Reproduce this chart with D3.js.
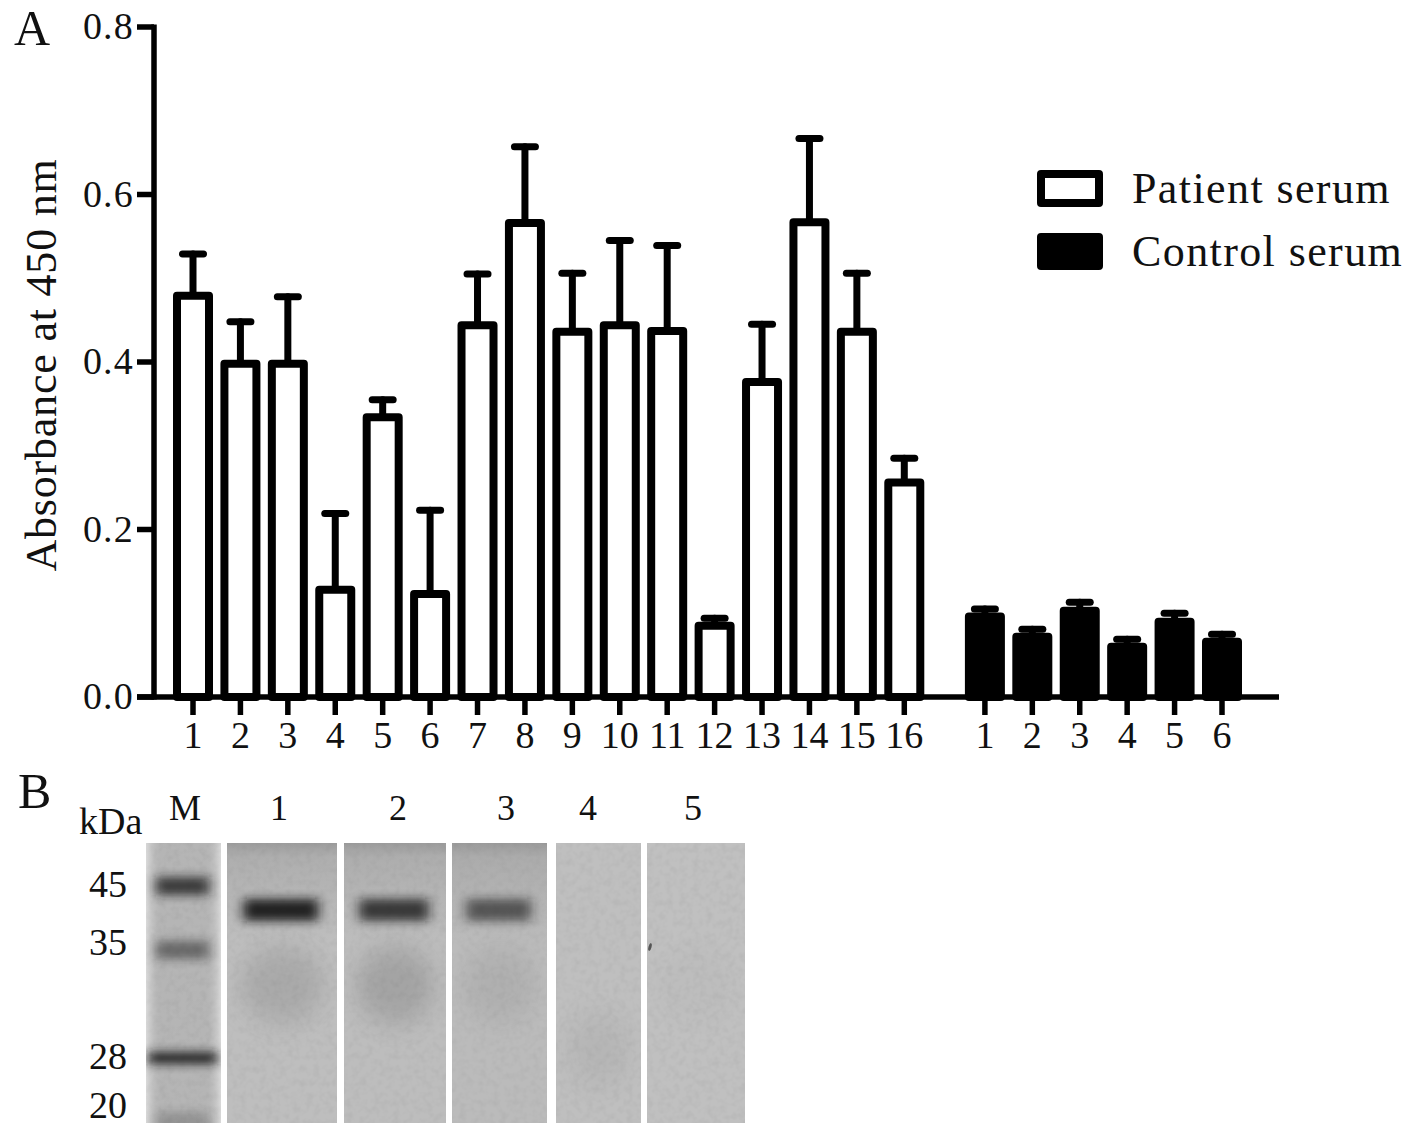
<!DOCTYPE html>
<html>
<head>
<meta charset="utf-8">
<script src="https://cdn.jsdelivr.net/npm/d3@7"></script>
<style>
html, body { margin: 0; padding: 0; background: #fff; }
text { font-family: "Liberation Serif", serif; fill: #111; }
</style>
</head>
<body>
<svg id="chart" width="1417" height="1133"></svg>
<script>
// Panel A values
const patientLabels = ["1","2","3","4","5","6","7","8","9","10","11","12","13","14","15","16"];
const patientMeans = [0.479,0.398,0.398,0.128,0.334,0.123,0.444,0.566,0.436,0.444,0.437,0.085,0.376,0.567,0.436,0.256];
const patientTops = [0.529,0.448,0.478,0.219,0.355,0.223,0.505,0.657,0.506,0.545,0.539,0.094,0.445,0.667,0.506,0.285];
const controlLabels = ["1","2","3","4","5","6"];
const controlMeans = [0.096,0.072,0.103,0.060,0.090,0.066];
const controlTops = [0.105,0.081,0.113,0.069,0.100,0.075];
const yTicks = [0, 0.2, 0.4, 0.6, 0.8];
const legendLabels = ["Patient serum", "Control serum"];

// Panel B values
const laneLabels = ["M","1","2","3","4","5"];
const markerKda = [45, 35, 28, 20];
const markerStrength = [0.8, 0.5, 0.92, 0.22];
const sampleKda = [40, 40, 40, 40, 40];
const sampleStrength = [0.92, 0.78, 0.6, 0, 0];
const smearKda = [31, 31, 31, 26, 31];
const smearStrength = [0.14, 0.18, 0.08, 0.06, 0.02];

const svg = d3.select("#chart");
const defs = svg.append("defs");

const y = d3.scaleLinear().domain([0, 0.8]).range([697, 27]);
// slot 16.7 leaves the gap between both groups
const x = d3.scaleLinear().domain([0, 21.7]).range([193, 1222]);
const controlStart = 16.7;

const bars = [];
patientLabels.forEach((l, i) => bars.push({label: l, slot: i, mean: patientMeans[i], top: patientTops[i], filled: false}));
controlLabels.forEach((l, i) => bars.push({label: l, slot: controlStart + i, mean: controlMeans[i], top: controlTops[i], filled: true}));

const barWidth = 32;
const capWidth = 21;

const barG = svg.append("g").attr("stroke", "#000").attr("stroke-linejoin", "round").attr("stroke-linecap", "round");

barG.selectAll("line.stem").data(bars).join("line")
    .attr("class", "stem")
    .attr("x1", d => x(d.slot)).attr("x2", d => x(d.slot))
    .attr("y1", d => y(d.mean)).attr("y2", d => y(d.top))
    .attr("stroke-width", 7);

barG.selectAll("line.cap").data(bars).join("line")
    .attr("class", "cap")
    .attr("x1", d => x(d.slot) - capWidth / 2).attr("x2", d => x(d.slot) + capWidth / 2)
    .attr("y1", d => y(d.top)).attr("y2", d => y(d.top))
    .attr("stroke-width", 7);

barG.selectAll("rect").data(bars).join("rect")
    .attr("x", d => x(d.slot) - barWidth / 2)
    .attr("width", barWidth)
    .attr("y", d => y(d.mean))
    .attr("height", d => y(0) - y(d.mean))
    .attr("fill", d => d.filled ? "#000" : "#fff")
    .attr("stroke-width", 8);

// axes
const axisG = svg.append("g").attr("stroke", "#000").attr("stroke-width", 5.5);
axisG.append("line").attr("x1", 154).attr("x2", 154).attr("y1", y(0.8) - 2.5).attr("y2", y(0) + 2.5);
axisG.append("line").attr("x1", 137).attr("x2", 1279).attr("y1", y(0)).attr("y2", y(0));
axisG.selectAll("line.ytick").data(yTicks).join("line")
    .attr("class", "ytick")
    .attr("x1", 137).attr("x2", 154)
    .attr("y1", d => y(d)).attr("y2", d => y(d));
axisG.selectAll("line.xtick").data(bars).join("line")
    .attr("class", "xtick")
    .attr("x1", d => x(d.slot)).attr("x2", d => x(d.slot))
    .attr("y1", y(0)).attr("y2", 715);

svg.append("g").selectAll("text").data(yTicks).join("text")
    .attr("x", 134).attr("y", d => y(d) + 12)
    .attr("text-anchor", "end")
    .style("font-size", "38px")
    .style("letter-spacing", "1.2px")
    .text(d => d3.format(".1f")(d));

svg.append("g").selectAll("text").data(bars).join("text")
    .attr("x", d => x(d.slot)).attr("y", 748)
    .attr("text-anchor", "middle")
    .style("font-size", "38px")
    .text(d => d.label);

svg.append("text")
    .attr("transform", "translate(56,365) rotate(-90)")
    .attr("text-anchor", "middle")
    .style("font-size", "44px")
    .style("letter-spacing", "0.8px")
    .text("Absorbance at 450 nm");

svg.append("text").attr("x", 14).attr("y", 45).style("font-size", "50px").text("A");
svg.append("text").attr("x", 18).attr("y", 808).style("font-size", "50px").text("B");

// legend
const legend = svg.append("g").selectAll("g").data(legendLabels).join("g")
    .attr("transform", (d, i) => `translate(0,${i * 63})`);
legend.append("rect")
    .attr("x", 1041).attr("y", 174).attr("width", 58).attr("height", 29)
    .attr("fill", (d, i) => i ? "#000" : "#fff")
    .attr("stroke", "#000").attr("stroke-width", 8).attr("stroke-linejoin", "round");
legend.append("text")
    .attr("x", 1132).attr("y", 203)
    .style("font-size", "44px")
    .style("letter-spacing", "1.4px")
    .text(d => d);

// Panel B, gel lanes
const laneLeft = [146, 227, 344, 452, 556, 647];
const laneRight = [221, 337, 446, 547, 641, 745];
const laneBase = ["#c6c6c6", "#bebebe", "#bdbdbd", "#bbbbbb", "#bfbfbf", "#c0c0c0"];
const gelTop = 843, gelBottom = 1123;
const gelY = d3.scaleLinear().domain([45, 40, 35, 31, 28, 26, 20]).range([886, 910, 950, 985, 1058, 1050, 1121]);

const blur = (id, sd) => defs.append("filter").attr("id", id)
    .attr("x", "-40%").attr("y", "-200%").attr("width", "180%").attr("height", "500%")
    .append("feGaussianBlur").attr("stdDeviation", sd);
blur("band", "6 5");
blur("smear", "11 14");

const grain = defs.append("filter").attr("id", "grain")
    .attr("x", 0).attr("y", 0).attr("width", "100%").attr("height", "100%");
grain.append("feTurbulence").attr("type", "fractalNoise").attr("baseFrequency", 0.15).attr("numOctaves", 2).attr("seed", 4);
grain.append("feColorMatrix").attr("type", "matrix")
    .attr("values", "0 0 0 0 0.3  0 0 0 0 0.3  0 0 0 0 0.3  0.4 0 0 0 -0.16");

const topShade = defs.append("linearGradient").attr("id", "topShade").attr("x1", 0).attr("x2", 0).attr("y1", 0).attr("y2", 1);
topShade.append("stop").attr("offset", 0).attr("stop-color", "#555").attr("stop-opacity", 0.32);
topShade.append("stop").attr("offset", 0.05).attr("stop-color", "#555").attr("stop-opacity", 0.15);
topShade.append("stop").attr("offset", 0.35).attr("stop-color", "#555").attr("stop-opacity", 0);

const edgeShade = defs.append("linearGradient").attr("id", "edgeShade");
edgeShade.append("stop").attr("offset", 0).attr("stop-color", "#fff").attr("stop-opacity", 0.35);
edgeShade.append("stop").attr("offset", 0.2).attr("stop-color", "#555").attr("stop-opacity", 0.15);
edgeShade.append("stop").attr("offset", 0.8).attr("stop-color", "#555").attr("stop-opacity", 0.15);
edgeShade.append("stop").attr("offset", 1).attr("stop-color", "#fff").attr("stop-opacity", 0.35);

const lanes = svg.append("g").selectAll("g").data(laneLabels).join("g");
lanes.each(function(label, i) {
    const g = d3.select(this);
    const l = laneLeft[i], r = laneRight[i], w = r - l;
    const clipId = "lane" + i;
    defs.append("clipPath").attr("id", clipId).append("rect")
        .attr("x", l).attr("y", gelTop).attr("width", w).attr("height", gelBottom - gelTop);
    g.attr("clip-path", `url(#${clipId})`);
    g.append("rect").attr("x", l).attr("y", gelTop).attr("width", w).attr("height", gelBottom - gelTop).attr("fill", laneBase[i]);
    g.append("rect").attr("x", l).attr("y", gelTop).attr("width", w).attr("height", gelBottom - gelTop)
        .attr("filter", "url(#grain)");

    if (i === 0) {
        g.append("rect").attr("x", l).attr("y", gelTop).attr("width", w).attr("height", gelBottom - gelTop).attr("fill", "url(#edgeShade)");
        g.selectAll("rect.band").data(markerKda).join("rect")
            .attr("class", "band")
            .attr("x", (d, k) => k === 2 ? l + 2 : l + 10)
            .attr("width", (d, k) => k === 2 ? w - 6 : w - 22)
            .attr("y", (d, k) => gelY(d) - (k === 2 ? 6 : 9))
            .attr("height", (d, k) => k === 2 ? 12 : 18)
            .attr("fill", "#1e1e1e")
            .attr("opacity", (d, k) => markerStrength[k])
            .attr("filter", "url(#band)");
    } else {
        const k = i - 1;
        if (k < 3) {
            g.append("rect").attr("x", l).attr("y", gelTop).attr("width", w).attr("height", gelBottom - gelTop).attr("fill", "url(#topShade)");
        }
        // wide diffuse smear below the main band
        g.append("ellipse")
            .attr("cx", (l + r) / 2).attr("cy", gelY(smearKda[k]))
            .attr("rx", w * 0.38).attr("ry", 38)
            .attr("fill", "#333").attr("opacity", smearStrength[k])
            .attr("filter", "url(#smear)");
        if (sampleStrength[k] > 0) {
            g.append("rect")
                .attr("x", l + w * 0.15).attr("width", w * 0.68)
                .attr("y", gelY(sampleKda[k]) - 11).attr("height", 22)
                .attr("fill", "#141414").attr("opacity", sampleStrength[k])
                .attr("filter", "url(#band)");
        }
    }
});

// small speck on lane 5
svg.append("ellipse").attr("cx", 650).attr("cy", 947).attr("rx", 1.5).attr("ry", 4)
    .attr("fill", "#555").attr("transform", "rotate(15 650 947)");

const laneLabelX = [185, 279, 398, 506, 588, 693];
svg.append("g").selectAll("text").data(laneLabels).join("text")
    .attr("x", (d, i) => laneLabelX[i]).attr("y", 820)
    .attr("text-anchor", "middle")
    .style("font-size", "36px")
    .text(d => d);

svg.append("text").attr("x", 79).attr("y", 834).style("font-size", "38px").text("kDa");

const markerLabelY = [897, 955, 1069, 1118];
svg.append("g").selectAll("text").data(markerKda).join("text")
    .attr("x", 108).attr("y", (d, i) => markerLabelY[i])
    .attr("text-anchor", "middle")
    .style("font-size", "38px")
    .text(d => d);
</script>
</body>
</html>
